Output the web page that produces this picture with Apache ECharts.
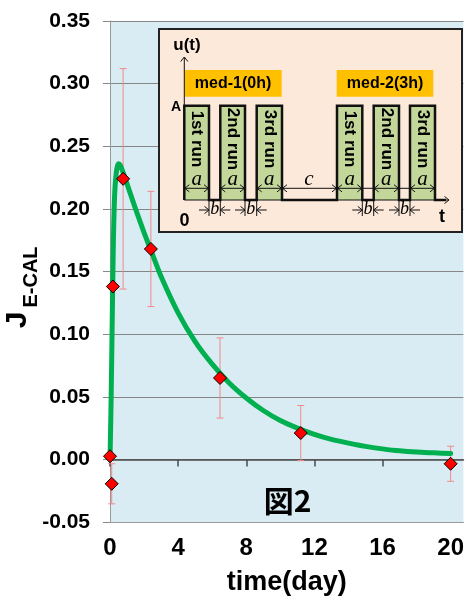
<!DOCTYPE html>
<html><head><meta charset="utf-8">
<script src="https://cdn.jsdelivr.net/npm/echarts@6/dist/echarts.min.js"></script>
<style>html,body{margin:0;padding:0;background:#fff}#c{width:467px;height:601px}</style>
</head><body><div id="c"></div>
<script>
// ---- data ----
const curveT = [0, 0.05, 0.1, 0.15, 0.2, 0.25, 0.3, 0.4, 0.5, 0.6, 0.8, 1.0, 1.5, 2.0, 2.4, 3, 4, 5, 6, 7, 8, 9, 10, 11, 12, 13, 14, 15, 16, 17, 18, 19, 20];
const curveV = [0, 0.035, 0.08, 0.13, 0.175, 0.203, 0.218, 0.232, 0.236, 0.235, 0.228, 0.220, 0.200, 0.181, 0.167, 0.146, 0.117, 0.094, 0.076, 0.061, 0.049, 0.039, 0.031, 0.025, 0.020, 0.016, 0.013, 0.0104, 0.0084, 0.0068, 0.0058, 0.0052, 0.0046];
const ptT   = [0, 0.1, 0.17, 0.77, 2.4, 6.46, 11.2, 20];
const ptV   = [0.0025, -0.0195, 0.138, 0.224, 0.168, 0.065, 0.021, -0.0035];
const ptErr = [0, 0.016, 0, 0.088, 0.046, 0.032, 0.022, 0.014];
const xTicks = [0, 4, 8, 12, 16, 20];
const yMin = -0.05, yMax = 0.35, yStep = 0.05;
const xMin = 0, xMax = 20.75;
const xName = 'time(day)';
const yNameMain = 'J', yNameSub = 'E-CAL';
const figLabel = '図2';

const FONT = '"Liberation Sans", Arial, sans-serif';
const SERIF = '"Liberation Serif", "DejaVu Serif", serif';

// ---- inset diagram (graphic) ----
const G = [];
const ink = '#111';
const Z = 100;
function L(x1, y1, x2, y2, w) { G.push({ type: 'line', z: Z + 3, shape: { x1, y1, x2, y2 }, style: { stroke: ink, lineWidth: w || 1 } }); }
function chev(x, y, dir) {
  const s = 4.5;
  let pts;
  if (dir === 'r') pts = [[x - s, y - s * 0.8], [x, y], [x - s, y + s * 0.8]];
  else if (dir === 'l') pts = [[x + s, y - s * 0.8], [x, y], [x + s, y + s * 0.8]];
  else pts = [[x - s * 0.8, y + s], [x, y], [x + s * 0.8, y + s]];
  G.push({ type: 'polyline', z: Z + 3, shape: { points: pts }, style: { stroke: ink, lineWidth: 1, fill: null } });
}
function T(x, y, text, font, extra) {
  G.push(Object.assign({ type: 'text', z: Z + 4, x, y, style: { text, font, fill: '#000', align: 'center', verticalAlign: 'middle' } }, extra || {}));
}
G.push({ type: 'rect', z: Z, shape: { x: 159, y: 29, width: 303, height: 203 }, style: { fill: '#fde9da', stroke: '#222', lineWidth: 2 } });
// med boxes
G.push({ type: 'rect', z: Z + 1, shape: { x: 184.3, y: 70, width: 97.4, height: 26.7 }, style: { fill: '#ffc000' } });
G.push({ type: 'rect', z: Z + 1, shape: { x: 336.7, y: 70, width: 96.6, height: 26.7 }, style: { fill: '#ffc000' } });
T(233, 83.5, 'med-1(0h)', 'bold 16px ' + FONT);
T(385, 83.5, 'med-2(3h)', 'bold 16px ' + FONT);
// bars
const bars = [[184.3, 209], [220.3, 245], [256.7, 282], [337, 362.3], [373.7, 399], [410, 435]];
const runs = ['1st run', '2nd run', '3rd run', '1st run', '2nd run', '3rd run'];
const bTop = 105.7, bBot = 200;
bars.forEach(b => G.push({ type: 'rect', z: Z + 1, shape: { x: b[0], y: bTop, width: b[1] - b[0], height: bBot - bTop }, style: { fill: '#c4d79b' } }));
// axes of diagram
L(184.3, 200, 184.3, 57, 1); chev(184.3, 57, 'u');
L(184.3, 200, 449, 200, 1); chev(449, 200, 'r');
// signal outline
const sig = [[184.3, 200]];
bars.forEach(b => { sig.push([b[0], bBot], [b[0], bTop], [b[1], bTop], [b[1], bBot]); });
sig.push([446, 200]);
G.push({ type: 'polyline', z: Z + 2, shape: { points: sig }, style: { stroke: ink, lineWidth: 2.5, fill: null } });
// run labels + a arrows
bars.forEach((b, i) => {
  const cx = (b[0] + b[1]) / 2;
  T(cx, 139, runs[i], 'bold 17px ' + FONT, { rotation: -Math.PI / 2 });
  T(cx, 179.5, 'a', 'italic 21px ' + SERIF);
  L(b[0], 188.3, b[1], 188.3, 1);
  chev(b[0] + 0.5, 188.3, 'l'); chev(b[1] - 0.5, 188.3, 'r');
});
// c arrow
L(282, 188.3, 337, 188.3, 1); chev(282.5, 188.3, 'l'); chev(336.5, 188.3, 'r');
L(362.3, 188.3, 373.7, 188.3, 1); L(399, 188.3, 410, 188.3, 1);
T(309, 179.5, 'c', 'italic 21px ' + SERIF);
// b markers
const gaps = [[209, 220.3], [245, 256.7], [362.3, 373.7], [399, 410]];
gaps.forEach(g => {
  L(g[0], 201, g[0], 216, 1); L(g[1], 201, g[1], 216, 1);
  L(g[0] - 10, 210, g[0], 210, 1); chev(g[0], 210, 'r');
  L(g[1], 210, g[1] + 10, 210, 1); chev(g[1], 210, 'l');
  T((g[0] + g[1]) / 2, 209, 'b', 'italic 18px ' + SERIF);
});
T(187, 45.5, 'u(t)', 'bold 17px ' + FONT);
T(176, 107.5, 'A', 'bold 14px ' + FONT);
T(184.5, 221.5, '0', 'bold 18px ' + FONT);
T(442, 217.5, 't', 'bold 18px ' + FONT);
// y title and figure label
T(18, 320, yNameMain, 'bold 30px ' + FONT, { rotation: Math.PI / 2, z: 5 });
T(31, 277, yNameSub, 'bold 20px ' + FONT, { rotation: Math.PI / 2, z: 5 });
T(287.5, 501, figLabel, 'bold 30px "Noto Sans CJK JP", sans-serif', { z: 5 });

// ---- chart ----
const chart = echarts.init(document.getElementById('c'), null, { renderer: 'canvas' });
const errData = ptT.map((t, i) => [t, ptV[i], ptErr[i]]);
chart.setOption({
  animation: false,
  grid: { left: 110, top: 21, right: 0, bottom: 78, show: true, backgroundColor: '#daecf3', borderWidth: 0 },
  xAxis: [
    {
      type: 'value', min: xMin, max: xMax, position: 'bottom',
      axisLine: { show: true, onZero: false, lineStyle: { color: '#999' } },
      axisTick: { show: false },
      splitLine: { show: false },
      axisLabel: { customValues: xTicks, margin: 14, color: '#000', fontWeight: 'bold', fontSize: 24, fontFamily: FONT },
      name: xName, nameLocation: 'middle', nameGap: 47,
      nameTextStyle: { color: '#000', fontWeight: 'bold', fontSize: 27, fontFamily: FONT }
    },
    {
      type: 'value', min: xMin, max: xMax, position: 'top',
      axisLine: { show: true, onZero: true, lineStyle: { color: '#4a4a4a', width: 1.5 } },
      axisTick: { show: true, inside: true, customValues: xTicks, length: 7, lineStyle: { color: '#4a4a4a', width: 1.5 } },
      axisLabel: { show: false },
      splitLine: { show: false }
    }
  ],
  yAxis: {
    type: 'value', min: yMin, max: yMax, interval: yStep,
    axisLine: { show: true, onZero: false, lineStyle: { color: '#999' } },
    axisTick: { show: true, length: 7, lineStyle: { color: '#888' } },
    splitLine: { show: true, lineStyle: { color: '#858585', width: 1 } },
    axisLabel: { margin: 20, color: '#000', fontWeight: 'bold', fontSize: 21, fontFamily: FONT, formatter: v => v.toFixed(2) }
  },
  graphic: { elements: G },
  series: [
    {
      type: 'custom', xAxisIndex: 0, z: 2, clip: false,
      data: errData,
      renderItem(params, api) {
        const x = api.value(0), v = api.value(1), e = api.value(2);
        if (!e) return null;
        const t = api.coord([x, v + e]), b = api.coord([x, v - e]);
        const w = 3.5, st = { stroke: '#f08a8a', lineWidth: 1 };
        return { type: 'group', children: [
          { type: 'line', shape: { x1: t[0], y1: t[1], x2: b[0], y2: b[1] }, style: st },
          { type: 'line', shape: { x1: t[0] - w, y1: t[1], x2: t[0] + w, y2: t[1] }, style: st },
          { type: 'line', shape: { x1: b[0] - w, y1: b[1], x2: b[0] + w, y2: b[1] }, style: st }
        ] };
      }
    },
    {
      type: 'line', xAxisIndex: 0, z: 3, clip: false,
      data: curveT.map((t, i) => [t, curveV[i]]),
      smooth: 0.25, showSymbol: false, symbol: 'none',
      lineStyle: { color: '#00b050', width: 5, join: 'round', cap: 'round' }
    },
    {
      type: 'scatter', xAxisIndex: 0, z: 4, clip: false,
      data: ptT.map((t, i) => [t, ptV[i]]),
      symbol: 'diamond', symbolSize: 13,
      itemStyle: { color: '#ff0000', borderColor: '#000', borderWidth: 1, opacity: 1 }
    }
  ]
});
</script></body></html>
